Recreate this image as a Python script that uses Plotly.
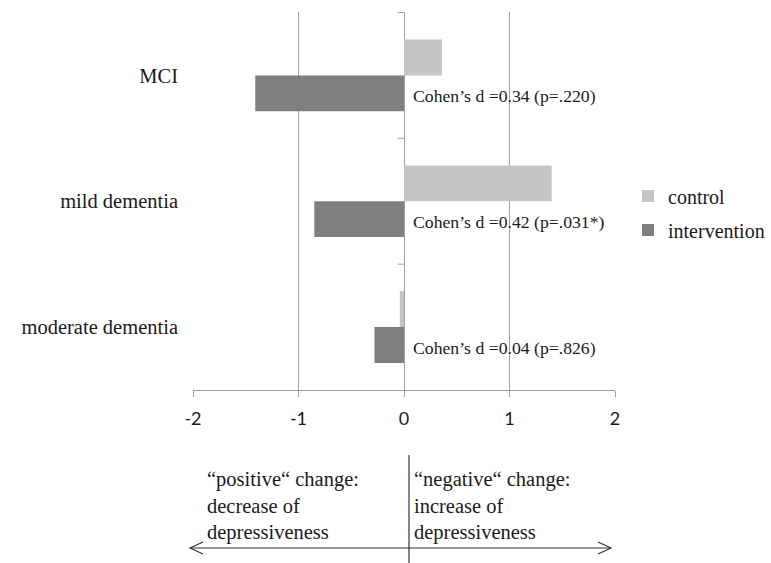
import plotly.graph_objects as go

categories = ["MCI", "mild dementia", "moderate dementia"]
control = [0.36, 1.40, -0.04]
intervention = [-1.41, -0.85, -0.28]
effect_labels = ["Cohen’s d =0.34 (p=.220)", "Cohen’s d =0.42 (p=.031*)", "Cohen’s d =0.04 (p=.826)"]
x_ticks = [-2, -1, 0, 1, 2]
x_ticklabels = ["-2", "-1", "0", "1", "2"]

SERIF = "Liberation Serif, Times New Roman, serif"
W, H = 771, 563
L, R, T, B = 193, 615, 12, 390
MR = 2
PW = W - MR - L
DOM = (R - L) / PW


def xp(px):
    return (px - L) / PW


def yp(py):
    return (B - py) / (B - T)


fig = go.Figure()
fig.add_trace(go.Bar(y=categories, x=control, orientation="h", name="control",
                     marker=dict(color="#c4c6c5", line=dict(width=0)), legendgroup="a"))
fig.add_trace(go.Bar(y=categories, x=intervention, orientation="h", name="intervention",
                     marker=dict(color="#7f7f7f", line=dict(width=0)), legendgroup="b"))

for cat, lab in zip(categories, effect_labels):
    fig.add_annotation(x=0, y=cat, text=lab, showarrow=False, xanchor="left", yanchor="middle",
                       xshift=7, yshift=-21, font=dict(family=SERIF, size=17.7, color="#1a1a1a"))

shapes = []
for yb in [-0.5, 0.5, 1.5]:
    shapes.append(dict(type="line", xref="x", yref="y", x0=-0.06, x1=0, y0=yb, y1=yb,
                       line=dict(color="#a0a0a0", width=1)))
shapes.append(dict(type="line", xref="paper", yref="paper", x0=xp(409), x1=xp(409),
                   y0=yp(455), y1=yp(563), line=dict(color="#333333", width=1.2)))
shapes.append(dict(type="line", xref="paper", yref="paper", x0=xp(190), x1=xp(611),
                   y0=yp(548), y1=yp(548), line=dict(color="#333333", width=1.2)))
for tip, d in [(190, 1), (611, -1)]:
    path = "M {} {} L {} {} L {} {}".format(
        xp(tip + d * 13), yp(542), xp(tip), yp(548), xp(tip + d * 13), yp(554))
    shapes.append(dict(type="path", xref="paper", yref="paper", path=path,
                       line=dict(color="#333333", width=1.2)))

fig.add_annotation(xref="paper", yref="paper", x=xp(205), y=yp(506), xanchor="left", yanchor="middle",
                   align="left", showarrow=False,
                   text="“positive“ change:<br>decrease of<br>depressiveness",
                   font=dict(family=SERIF, size=20.5, color="#1a1a1a"))
fig.add_annotation(xref="paper", yref="paper", x=xp(412), y=yp(506), xanchor="left", yanchor="middle",
                   align="left", showarrow=False,
                   text="“negative“ change:<br>increase of<br>depressiveness",
                   font=dict(family=SERIF, size=20.5, color="#1a1a1a"))

fig.update_layout(
    width=W, height=H,
    margin=dict(l=L, r=MR, t=T, b=H - B, autoexpand=False),
    paper_bgcolor="white", plot_bgcolor="white",
    barmode="group", bargap=0.43, bargroupgap=0,
    shapes=shapes,
    showlegend=True,
    legend=dict(x=xp(628), y=yp(213), xanchor="left", yanchor="middle",
                font=dict(family=SERIF, size=20, color="#1a1a1a"),
                tracegroupgap=5, traceorder="grouped", bgcolor="rgba(0,0,0,0)",
                itemwidth=30),
    xaxis=dict(domain=[0, DOM], range=[-2, 2], tickvals=x_ticks, ticktext=x_ticklabels,
               showgrid=True, gridcolor="#a0a0a0", gridwidth=1,
               zeroline=False, showline=True, linecolor="#a0a0a0", linewidth=1,
               ticks="outside", ticklen=6, tickcolor="#a0a0a0", ticklabelstandoff=6,
               tickfont=dict(family="Lato, sans-serif", size=18, color="#1a1a1a"),
               fixedrange=True),
    yaxis=dict(autorange="reversed", showgrid=False, zeroline=False, showline=False,
               ticks="", ticklabelstandoff=14,
               tickfont=dict(family=SERIF, size=20.5, color="#1a1a1a"), fixedrange=True),
)

fig.write_html("out.html", config={"displayModeBar": False},
               post_script="document.body.style.margin='0px';document.body.style.padding='0px';")
